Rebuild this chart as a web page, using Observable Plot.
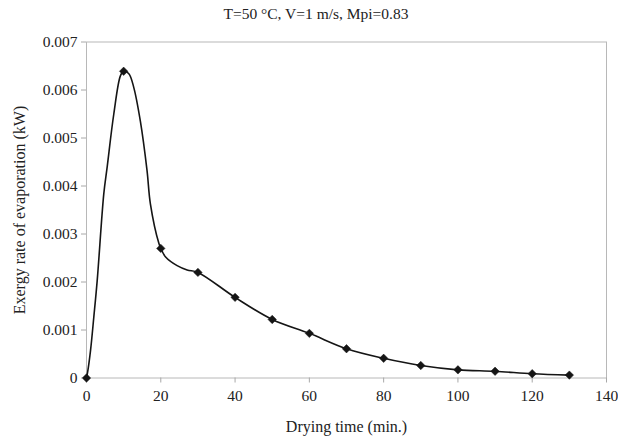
<!DOCTYPE html>
<html>
<head>
<meta charset="utf-8">
<script src="https://cdn.jsdelivr.net/npm/d3@7"></script>
<script src="https://cdn.jsdelivr.net/npm/@observablehq/plot@0.6"></script>
<style>
  html, body { margin: 0; padding: 0; background: #fff; }
  body { width: 618px; height: 443px; overflow: hidden; font-family: "Liberation Serif", "Times New Roman", serif; }
  #title { height: 26px; line-height: 28px; font-size: 15.5px; color: #222; text-align: center; padding-left: 14px; width: 618px; box-sizing: border-box; white-space: nowrap; }
  #chart svg { display: block; font-family: "Liberation Serif", "Times New Roman", serif; }
</style>
</head>
<body>
<div id="title">T=50 °C, V=1 m/s, Mpi=0.83</div>
<div id="chart"></div>
<script>
// Marked measurements (every 10 min)
const markerTime = [0, 10, 20, 30, 40, 50, 60, 70, 80, 90, 100, 110, 120, 130];
const markerRate = [0, 0.00639, 0.0027, 0.0022, 0.00168, 0.00122, 0.00093, 0.00061, 0.00041, 0.00026, 0.00017, 0.00014, 0.00009, 0.00006];

// Curve (denser in the first 30 min)
const curveTime = [0, 0.3, 1.08, 1.97, 2.88, 4.66, 5.57, 7.35, 9.15, 10, 11.4, 12.7, 14.5, 16.3, 17.2, 19.5, 20, 21.3, 24.4, 27.1, 30, 40, 50, 60, 70, 80, 90, 100, 110, 120, 130];
const curveRate = [0, 0.00012, 0.00057, 0.00127, 0.00203, 0.00384, 0.00440, 0.0055, 0.0063, 0.00639, 0.00634, 0.00606, 0.00535, 0.00432, 0.00363, 0.0028, 0.0027, 0.00252, 0.00234, 0.00225, 0.0022, 0.00168, 0.00122, 0.00093, 0.00061, 0.00041, 0.00026, 0.00017, 0.00014, 0.00009, 0.00006];

const xTicks = [0, 20, 40, 60, 80, 100, 120, 140];
const yTicks = [0, 0.001, 0.002, 0.003, 0.004, 0.005, 0.006, 0.007];
const yTickLabels = ["0", "0.001", "0.002", "0.003", "0.004", "0.005", "0.006", "0.007"];

const titleText = "T=50 °C, V=1 m/s, Mpi=0.83";
const xLabel = "Drying time (min.)";
const yLabel = "Exergy rate of evaporation (kW)";

document.getElementById("title").textContent = titleText;

const markers = markerTime.map((t, i) => ({t, r: markerRate[i]}));
const curve = curveTime.map((t, i) => ({t, r: curveRate[i]}));

const chart = Plot.plot({
  width: 618,
  height: 417,
  marginLeft: 86,
  marginRight: 12,
  marginTop: 15.5,
  marginBottom: 65.5,
  style: {fontSize: "15.5px", fontFamily: "'Liberation Serif', 'Times New Roman', serif", color: "#222", background: "#fff"},
  x: {domain: [0, 140]},
  y: {domain: [0, 0.007]},
  marks: [
    Plot.frame({stroke: "#b8b8b8", strokeWidth: 1}),
    Plot.axisX({ticks: xTicks, tickSize: 5, tickPadding: 7, stroke: "#a8a8a8", fill: "#222", label: null}),
    Plot.axisX({ticks: [], label: xLabel, labelAnchor: "center", labelOffset: 54, labelArrow: false, fontSize: 16, fill: "#222"}),
    Plot.axisY({ticks: yTicks, tickFormat: (d) => yTickLabels[yTicks.indexOf(d)] ?? d, tickSize: 5, tickPadding: 4,
      stroke: "#a8a8a8", fill: "#222", label: null}),
    Plot.axisY({ticks: [], label: yLabel, labelAnchor: "center", labelOffset: 73, labelArrow: false, fontSize: 16, fill: "#222"}),
    Plot.line(curve, {x: "t", y: "r", curve: "catmull-rom", stroke: "#151515", strokeWidth: 1.6}),
    Plot.dot(markers, {x: "t", y: "r", symbol: "diamond2", r: 3.8, fill: "#151515", stroke: "#151515", strokeWidth: 0.5})
  ]
});
document.getElementById("chart").appendChild(chart);
</script>
</body>
</html>
